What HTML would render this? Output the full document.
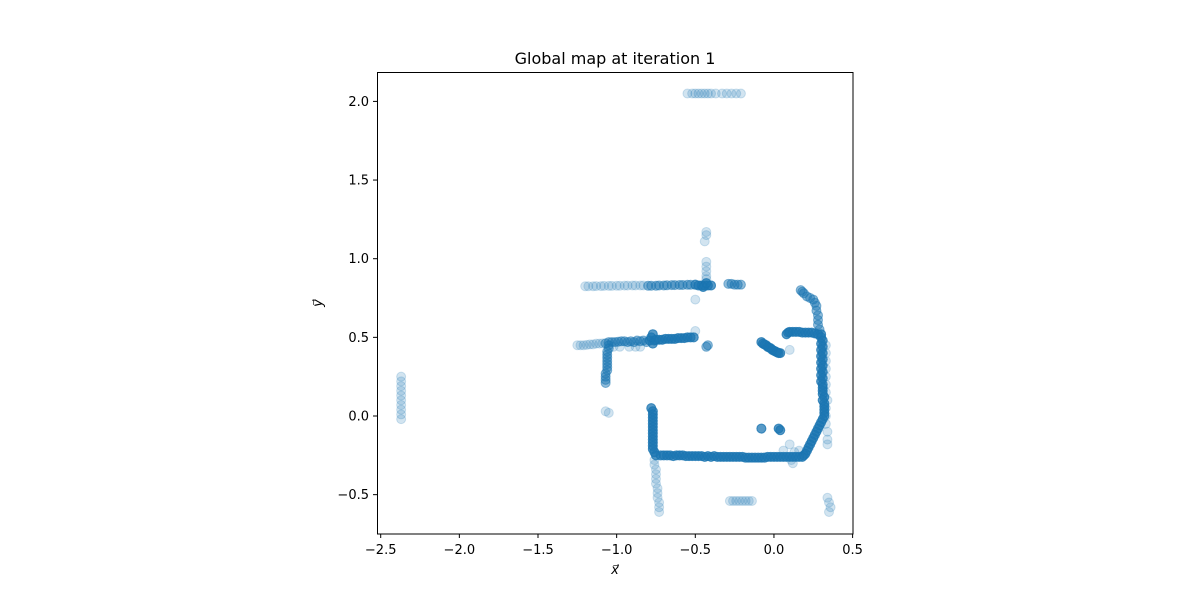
<!DOCTYPE html>
<html><head><meta charset="utf-8"><style>
body{margin:0;background:#fff;font-family:"Liberation Sans","DejaVu Sans",sans-serif;}
svg text{font-family:"DejaVu Sans","Liberation Sans",sans-serif;}
</style></head><body>
<svg id="chart" width="1200" height="600" xmlns="http://www.w3.org/2000/svg">
<rect width="1200" height="600" fill="#fff"/>
<text x="615" y="64" font-size="16" text-anchor="middle">Global map at iteration 1</text>
<g id="points"></g>
<rect x="377.5" y="72.5" width="475.5" height="461.5" fill="none" stroke="#000" stroke-width="1"/>
<g id="xticks"></g>
<g id="yticks"></g>
<text x="615" y="574" font-size="13" font-style="italic" text-anchor="middle">x⃗</text>
<text x="322" y="303" font-size="13" font-style="italic" text-anchor="middle" transform="rotate(-90 322 303)">y⃗</text>
</svg>
<script>
const xTicks=[-2.5,-2.0,-1.5,-1.0,-0.5,0.0,0.5];
const yTicks=[-0.5,0.0,0.5,1.0,1.5,2.0];
const xTickLabels=["−2.5","−2.0","−1.5","−1.0","−0.5","0.0","0.5"];
const yTickLabels=["−0.5","0.0","0.5","1.0","1.5","2.0"];
// sparse (single-scan) points
const ptsSparse=[[-2.37,0.25],[-2.37,0.22],[-2.37,0.19],[-2.37,0.16],[-2.37,0.13],[-2.37,0.10],[-2.37,0.07],[-2.37,0.04],[-2.37,0.01],[-2.37,-0.02],
[-0.55,2.05],[-0.52,2.05],[-0.50,2.05],[-0.48,2.05],[-0.46,2.05],[-0.44,2.05],[-0.42,2.05],[-0.40,2.05],[-0.37,2.05],[-0.33,2.05],[-0.30,2.05],[-0.27,2.05],[-0.24,2.05],[-0.21,2.05],
[-1.20,0.825],[-1.18,0.825],[-1.15,0.825],[-1.13,0.826],[-1.10,0.826],[-1.08,0.827],[-1.05,0.827],[-1.03,0.827],[-1.00,0.828],[-0.98,0.828],[-0.95,0.829],[-0.93,0.829],[-0.90,0.83],[-0.88,0.83],[-0.85,0.83],[-0.83,0.83],
[-0.43,1.17],[-0.43,1.15],[-0.44,1.11],[-0.43,0.98],[-0.43,0.95],[-0.43,0.92],[-0.43,0.89],[-0.43,0.87],[-0.50,0.74],
[-1.25,0.45],[-1.23,0.45],[-1.21,0.45],[-1.19,0.452],[-1.17,0.455],[-1.15,0.455],[-1.13,0.46],[-1.11,0.46],[-1.09,0.462],
[-1.02,0.44],[-0.98,0.44],[-0.92,0.44],[-0.88,0.44],[-0.85,0.44],
[-0.50,0.54],[-1.07,0.03],[-1.05,0.02],[0.10,0.42],
[0.33,0.45],[0.33,0.40],[0.33,0.35],[0.33,0.30],[0.33,0.25],[0.33,0.20],[0.33,0.15],[0.34,0.10],[0.33,0.05],[0.33,0.00],[0.33,-0.05],[0.34,-0.10],[0.34,-0.15],[0.34,-0.18],
[-0.76,-0.28],[-0.76,-0.31],[-0.75,-0.34],[-0.75,-0.37],[-0.75,-0.40],[-0.75,-0.43],[-0.74,-0.46],[-0.74,-0.49],[-0.74,-0.52],[-0.73,-0.55],[-0.73,-0.58],[-0.73,-0.61],
[0.10,-0.18],[0.06,-0.22],[0.13,-0.23],[0.11,-0.28],[0.12,-0.30],[0.16,-0.22],
[-0.28,-0.54],[-0.26,-0.54],[-0.24,-0.54],[-0.22,-0.54],[-0.20,-0.54],[-0.18,-0.54],[-0.16,-0.54],[-0.14,-0.54],
[0.34,-0.52],[0.35,-0.55],[0.36,-0.58],[0.35,-0.61]];
// medium-density points (a few overlapping scans)
const ptsMedium=[[-0.80,0.828],[-0.78,0.828],[-0.75,0.828],[-0.73,0.83],[-0.70,0.83],[-0.68,0.831],[-0.65,0.832],[-0.63,0.832],[-0.60,0.833],[-0.58,0.833],[-0.55,0.834],[-0.53,0.834],
[-0.29,0.84],[-0.27,0.84],[-0.25,0.835],[-0.23,0.835],[-0.21,0.835],
[-1.07,0.462],[-1.05,0.47],[-1.03,0.47],[-1.01,0.47],[-0.99,0.472],[-0.97,0.475],[-0.95,0.475],[-0.93,0.47],[-0.91,0.475],[-0.89,0.47],[-0.87,0.48],[-0.85,0.475],[-0.83,0.48],[-0.81,0.47],
[-1.05,0.45],[-1.05,0.43],[-1.06,0.41],[-1.06,0.39],[-1.06,0.37],[-1.06,0.35],[-1.06,0.33],[-1.06,0.31],[-1.06,0.29],[-1.07,0.27],[-1.07,0.25],[-1.07,0.23],[-1.07,0.21],
[0.17,0.80],[0.18,0.79],[0.19,0.78],[0.21,0.76],[0.23,0.75],[0.25,0.74],[0.26,0.72],[0.27,0.70],[0.27,0.67],[0.28,0.64],[0.28,0.61],[0.28,0.58],[0.29,0.55],
[-0.42,0.45],[-0.43,0.44]];
// dense points (many overlapping scans)
const ptsDense=[[-0.50,0.835],[-0.48,0.83],[-0.46,0.83],[-0.44,0.83],[-0.42,0.83],[-0.40,0.83],[-0.45,0.82],[-0.43,0.845],
[-0.79,0.48],[-0.78,0.50],[-0.77,0.52],[-0.77,0.46],[-0.76,0.48],[-0.75,0.485],[-0.73,0.485],[-0.71,0.485],[-0.69,0.49],[-0.67,0.49],[-0.65,0.49],[-0.63,0.49],[-0.61,0.495],[-0.59,0.495],[-0.57,0.495],[-0.55,0.50],[-0.53,0.50],[-0.51,0.50],
[-0.08,0.47],[-0.07,0.46],[-0.06,0.455],[-0.05,0.45],[-0.04,0.44],[-0.03,0.435],[-0.02,0.43],[-0.01,0.42],[0.00,0.415],[0.01,0.41],[0.02,0.405],[0.03,0.40],[0.04,0.40],
[0.08,0.52],[0.09,0.53],[0.10,0.535],[0.12,0.535],[0.14,0.535],[0.16,0.535],[0.18,0.53],[0.20,0.53],[0.22,0.53],[0.24,0.53],[0.26,0.525],[0.28,0.52],[0.30,0.52],
[0.30,0.50],[0.31,0.48],[0.30,0.46],[0.31,0.44],[0.30,0.42],[0.31,0.40],[0.30,0.38],[0.31,0.36],[0.30,0.34],[0.31,0.32],[0.30,0.30],[0.31,0.28],[0.30,0.26],[0.31,0.24],[0.30,0.22],[0.31,0.20],[0.31,0.18],[0.31,0.16],[0.31,0.14],[0.32,0.12],[0.31,0.10],[0.32,0.08],[0.32,0.06],[0.32,0.04],[0.32,0.02],[0.32,0.00],[0.31,-0.02],[0.30,-0.04],[0.29,-0.06],[0.28,-0.08],[0.27,-0.10],[0.26,-0.12],[0.25,-0.14],[0.24,-0.16],[0.23,-0.18],[0.22,-0.20],[0.21,-0.22],[0.20,-0.24],[0.19,-0.25],
[-0.75,-0.25],[-0.72,-0.25],[-0.70,-0.25],[-0.68,-0.25],[-0.66,-0.25],[-0.64,-0.255],[-0.62,-0.25],[-0.60,-0.25],[-0.58,-0.25],[-0.56,-0.255],[-0.54,-0.255],[-0.52,-0.255],[-0.50,-0.255],[-0.48,-0.255],[-0.46,-0.255],[-0.44,-0.26],[-0.42,-0.255],[-0.40,-0.26],[-0.38,-0.255],[-0.36,-0.26],[-0.34,-0.26],[-0.32,-0.26],[-0.30,-0.26],[-0.28,-0.26],[-0.26,-0.26],[-0.24,-0.26],[-0.22,-0.26],[-0.20,-0.26],[-0.18,-0.265],[-0.16,-0.265],[-0.14,-0.265],[-0.12,-0.265],[-0.10,-0.265],[-0.08,-0.265],[-0.06,-0.265],[-0.04,-0.26],[-0.02,-0.26],[0.00,-0.26],[0.02,-0.26],[0.04,-0.26],[0.06,-0.26],[0.08,-0.26],[0.10,-0.26],[0.12,-0.26],[0.14,-0.26],[0.16,-0.26],[0.18,-0.26],
[-0.78,0.05],[-0.77,0.03],[-0.77,0.01],[-0.77,-0.01],[-0.77,-0.03],[-0.77,-0.05],[-0.77,-0.07],[-0.77,-0.09],[-0.77,-0.11],[-0.77,-0.13],[-0.77,-0.15],[-0.77,-0.17],[-0.77,-0.19],[-0.77,-0.21],[-0.76,-0.23],
[-0.08,-0.08],[0.03,-0.08],[0.04,-0.09]];
const groups=[ptsSparse,ptsMedium,ptsDense];
const scanCounts=[1,3,6];

const X0=380.7, Y0=416, S=157.3;
function sx(v){return X0+(v+2.5)*S;}
function sy(v){return Y0-v*S;}
const NS="http://www.w3.org/2000/svg";
const g=document.getElementById('points');
groups.forEach((arr,gi)=>{
  for(let k=0;k<scanCounts[gi];k++){
    arr.forEach(p=>{
      const c=document.createElementNS(NS,'circle');
      
      
      c.setAttribute('cx',sx(p[0]));c.setAttribute('cy',sy(p[1]));c.setAttribute('r',4.5);
      c.setAttribute('fill','rgba(31,119,180,0.2)');c.setAttribute('stroke','rgba(31,119,180,0.2)');c.setAttribute('stroke-width','1');
      g.appendChild(c);
    });
  }
});
const xg=document.getElementById('xticks');
xTicks.forEach((t,i)=>{
  const x=sx(t);
  const l=document.createElementNS(NS,'line');
  
  
  l.setAttribute('x1',x);l.setAttribute('x2',x);l.setAttribute('y1',534);l.setAttribute('y2',538);l.setAttribute('stroke','#000');
  xg.appendChild(l);
  const tx=document.createElementNS(NS,'text');
  
  
  tx.setAttribute('x',x);tx.setAttribute('y',554);tx.setAttribute('font-size','13');tx.setAttribute('text-anchor','middle');
  tx.textContent=xTickLabels[i];xg.appendChild(tx);
});
const yg=document.getElementById('yticks');
yTicks.forEach((t,i)=>{
  const y=sy(t);
  const l=document.createElementNS(NS,'line');
  
  
  l.setAttribute('x1',373);l.setAttribute('x2',377);l.setAttribute('y1',y);l.setAttribute('y2',y);l.setAttribute('stroke','#000');
  yg.appendChild(l);
  const tx=document.createElementNS(NS,'text');
  
  
  tx.setAttribute('x',369);tx.setAttribute('y',y+4.5);tx.setAttribute('font-size','13');tx.setAttribute('text-anchor','end');
  tx.textContent=yTickLabels[i];yg.appendChild(tx);
});
</script>
</body></html>
